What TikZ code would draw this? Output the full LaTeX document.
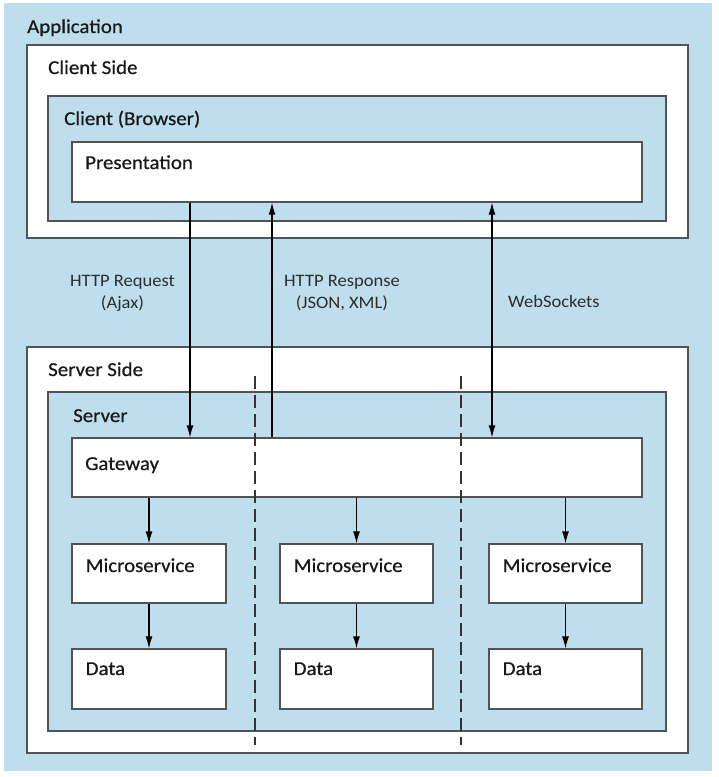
\documentclass[tikz,border=0pt]{standalone}
\usepackage{fontspec}
\setmainfont{Carlito}
\newfontfamily\titlefont[FakeStretch=1.06,FakeBold=0.6]{Carlito}
\newfontfamily\lblfont[FakeStretch=1.06]{Carlito}
\usetikzlibrary{arrows.meta}
\definecolor{bgblue}{RGB}{190,222,238}
\definecolor{boxline}{RGB}{80,84,88}
\definecolor{txt}{RGB}{25,25,25}
\definecolor{lbltxt}{RGB}{45,45,45}
\begin{document}
\begin{tikzpicture}[x=1pt,y=-1pt,
  wbox/.style={draw=boxline,line width=1.2pt,fill=white,inner sep=0pt,rectangle},
  bbox/.style={draw=boxline,line width=1.2pt,fill=bgblue,inner sep=0pt,rectangle},
  ttl/.style={anchor=base west,inner sep=0pt,text=txt,font=\titlefont\fontsize{19.7}{24}\selectfont},
  lbl/.style={inner sep=0pt,text=lbltxt,font=\lblfont\fontsize{17.5}{22}\selectfont},
  conn/.style={line width=1.2pt,black,-{Latex[length=12pt,width=7pt]}},
  sep/.style={line width=1.1pt,black!80,dash pattern=on 13pt off 6pt}]
\useasboundingbox (0,0) rectangle (719,777);
\fill[white] (0,0) rectangle (719,777);
\fill[bgblue] (4,3) rectangle (712,771);
% boxes
\draw[wbox] (27,45) rectangle (688,238);
\draw[bbox] (48,96) rectangle (666,221);
\node[wbox,minimum width=570pt,minimum height=60pt] (pres) at (357,172) {};
\draw[wbox] (27,347) rectangle (688,753);
\draw[bbox] (48,392) rectangle (666,731);
\node[wbox,minimum width=570pt,minimum height=59pt] (gw) at (357,467.5) {};
\foreach \n/\l/\r in {1/72/226,2/280/433,3/489/642}{
  \node[wbox,minimum width={(\r-\l)*1pt},minimum height=59pt] (ms\n) at ({(\l+\r)/2},573.5) {};
  \node[wbox,minimum width={(\r-\l)*1pt},minimum height=60pt] (db\n) at ({(\l+\r)/2},679) {};
  \node[ttl] at ({\l+13.5},572) {Microservice};
  \node[ttl] at ({\l+13.5},675) {Data};
}
% titles
\node[ttl] at (27,33) {Application};
\node[ttl] at (48,74) {Client Side};
\node[ttl] at (64,125) {Client (Browser)};
\node[ttl] at (85,169) {Presentation};
\node[ttl] at (48,376) {Server Side};
\node[ttl] at (73,422) {Server};
\node[ttl] at (85,470) {Gateway};
% separators
\draw[sep] (255,376) -- (255,745);
\draw[sep] (461,376) -- (461,745);
% connectors
\draw[conn] (pres.south -| 190,0) -- (gw.north -| 190,0);
\draw[conn] (gw.north -| 272,0) -- (pres.south -| 272,0);
\draw[conn,{Latex[length=12pt,width=7pt]}-{Latex[length=12pt,width=7pt]}] (pres.south -| 492,0) -- (gw.north -| 492,0);
\foreach \n in {1,2,3}{
  \draw[conn] (gw.south -| ms\n.north) -- (ms\n.north);
  \draw[conn] (ms\n.south) -- (db\n.north);
}
% labels
\node[lbl,align=center,anchor=base] at (122.5,308) {HTTP Request\\(Ajax)};
\node[lbl,align=center,anchor=base] at (342,308) {HTTP Response\\(JSON, XML)};
\node[lbl,anchor=base west] at (508,307) {WebSockets};
\end{tikzpicture}
\end{document}
